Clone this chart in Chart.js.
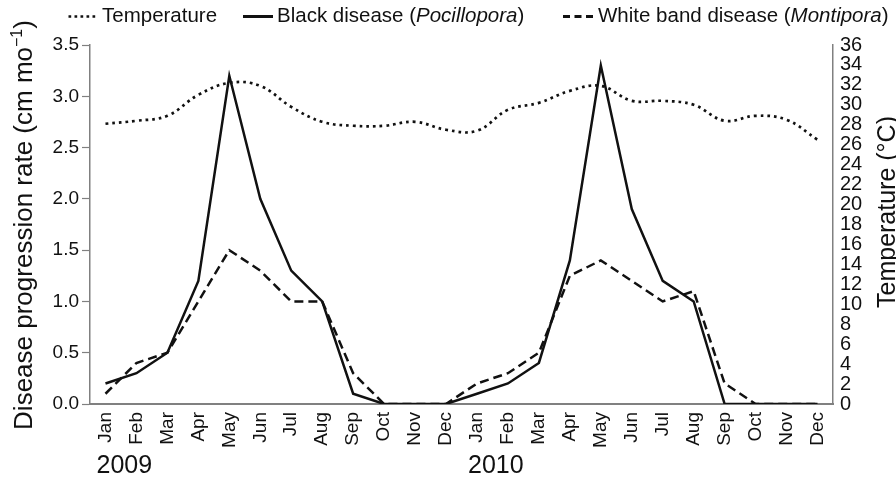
<!DOCTYPE html>
<html>
<head>
<meta charset="utf-8">
<script src="https://cdn.jsdelivr.net/npm/chart.js@4"></script>
<style>
  html, body { margin: 0; padding: 0; background: #fff; }
  .wrap { position: relative; width: 896px; height: 481px; overflow: hidden; font-family: 'Liberation Sans', Arial, sans-serif; }
  .legend div { position: absolute; top: 5px; font-size: 20.5px; line-height: 20.5px; color: #111; white-space: nowrap; }
  .legend svg { position: absolute; top: 10px; }
  canvas { position: absolute; left: 0; top: 0; }
</style>
</head>
<body>
<div class="wrap">
  <canvas id="chart" width="896" height="481"></canvas>
  <div class="legend">
    <svg style="left:67px" width="31" height="12"><line x1="1.5" y1="6.5" x2="30" y2="6.5" stroke="#111" stroke-width="2.7" stroke-dasharray="2.7 3.3"/></svg>
    <div style="left:102px">Temperature</div>
    <svg style="left:243px" width="31" height="12"><line x1="0" y1="6.5" x2="30" y2="6.5" stroke="#111" stroke-width="3"/></svg>
    <div style="left:277px">Black disease (<i>Pocillopora</i>)</div>
    <svg style="left:563px" width="31" height="12"><line x1="0" y1="6.5" x2="30" y2="6.5" stroke="#111" stroke-width="3" stroke-dasharray="7 4.5"/></svg>
    <div style="left:598px">White band disease (<i>Montipora</i>)</div>
  </div>
</div>
<script>
const months = ['Jan', 'Feb', 'Mar', 'Apr', 'May', 'Jun', 'Jul', 'Aug', 'Sep', 'Oct', 'Nov', 'Dec',
  'Jan', 'Feb', 'Mar', 'Apr', 'May', 'Jun', 'Jul', 'Aug', 'Sep', 'Oct', 'Nov', 'Dec'];
const years = ['2009', '2010'];
const yearStart = [0, 12];

const blackDisease = [0.2, 0.3, 0.5, 1.2, 3.2, 2.0, 1.3, 1.0, 0.1, 0, 0, 0,
  0.1, 0.2, 0.4, 1.4, 3.3, 1.9, 1.2, 1.0, 0, 0, 0, 0];
const whiteBand = [0.1, 0.4, 0.5, 1.0, 1.5, 1.3, 1.0, 1.0, 0.3, 0, 0, 0,
  0.2, 0.3, 0.5, 1.25, 1.4, 1.2, 1.0, 1.1, 0.2, 0, 0, 0];
const temperature = [28.1, 28.4, 28.9, 31.0, 32.2, 31.9, 29.8, 28.3, 27.9, 27.9, 28.3, 27.5,
  27.4, 29.5, 30.2, 31.4, 31.9, 30.4, 30.4, 30.0, 28.4, 28.9, 28.5, 26.5];

const leftTicks = [0, 0.5, 1, 1.5, 2, 2.5, 3, 3.5];
const rightTicks = [0, 2, 4, 6, 8, 10, 12, 14, 16, 18, 20, 22, 24, 26, 28, 30, 32, 34, 36];

const font = 'Liberation Sans';
const ink = '#111';
const axisGrey = '#808080';

// axis titles (both read bottom to top) and year labels
const extraText = {
  id: 'extraText',
  afterDraw(chart) {
    const ctx = chart.ctx;
    const x = chart.scales.x;
    ctx.save();
    ctx.fillStyle = ink;

    ctx.font = '25px ' + font;
    ctx.textBaseline = 'middle';
    ctx.textAlign = 'left';
    years.forEach((y, i) => {
      ctx.fillText(y, x.getPixelForValue(yearStart[i]) - 9, 466);
    });

    // left title with superscript
    const main = 'Disease progression rate (cm mo';
    const sup = '\u22121';
    const tail = ')';
    ctx.font = '26px ' + font;
    const wMain = ctx.measureText(main).width;
    const wTail = ctx.measureText(tail).width;
    ctx.font = '16px ' + font;
    const wSup = ctx.measureText(sup).width;
    const total = wMain + wSup + wTail;
    ctx.save();
    ctx.translate(32, 225);
    ctx.rotate(-Math.PI / 2);
    ctx.textBaseline = 'alphabetic';
    ctx.textAlign = 'left';
    let p = -total / 2;
    ctx.font = '26px ' + font;
    ctx.fillText(main, p, 0);
    p += wMain;
    ctx.font = '16px ' + font;
    ctx.fillText(sup, p, -10);
    p += wSup;
    ctx.font = '26px ' + font;
    ctx.fillText(tail, p, 0);
    ctx.restore();

    // right title
    ctx.save();
    ctx.translate(895, 212);
    ctx.rotate(-Math.PI / 2);
    ctx.font = '25px ' + font;
    ctx.textBaseline = 'alphabetic';
    ctx.textAlign = 'center';
    ctx.fillText('Temperature (\u00B0C)', 0, 0);
    ctx.restore();

    ctx.restore();
  }
};

new Chart(document.getElementById('chart'), {
  type: 'line',
  data: {
    labels: months,
    datasets: [
      {
        label: 'Temperature',
        data: temperature,
        yAxisID: 'y2',
        borderColor: ink,
        borderWidth: 2.7,
        borderDash: [2.7, 4],
        tension: 0.4,
        pointRadius: 0,
      },
      {
        label: 'Black disease (Pocillopora)',
        data: blackDisease,
        yAxisID: 'y',
        borderColor: ink,
        borderWidth: 2.5,
        tension: 0,
        pointRadius: 0,
      },
      {
        label: 'White band disease (Montipora)',
        data: whiteBand,
        yAxisID: 'y',
        borderColor: ink,
        borderWidth: 2.5,
        borderDash: [9, 5],
        tension: 0,
        pointRadius: 0,
      },
    ],
  },
  options: {
    responsive: false,
    animation: false,
    layout: { padding: { top: 45, bottom: 0, left: 0, right: 0 } },
    plugins: {
      legend: { display: false },
      tooltip: { enabled: false },
    },
    scales: {
      x: {
        offset: true,
        afterFit: (s) => { s.height = 77; },
        grid: { display: false, drawTicks: false },
        border: { color: axisGrey, width: 2 },
        ticks: { color: ink, font: { family: font, size: 19 }, maxRotation: 90, minRotation: 90, autoSkip: false, padding: 8 },
      },
      y: {
        position: 'left',
        min: 0,
        max: 3.5,
        afterFit: (s) => { s.width = 90; },
        afterBuildTicks: (s) => { s.ticks = leftTicks.map(v => ({ value: v })); },
        grid: { drawOnChartArea: false, tickLength: 8, color: axisGrey, tickWidth: 1.2 },
        border: { color: axisGrey, width: 1.5 },
        ticks: { color: ink, font: { family: font, size: 19 }, padding: 3, callback: v => v.toFixed(1) },
      },
      y2: {
        position: 'right',
        min: 0,
        max: 36,
        afterFit: (s) => { s.width = 63; },
        afterBuildTicks: (s) => { s.ticks = rightTicks.map(v => ({ value: v })); },
        grid: { drawOnChartArea: false, drawTicks: false },
        border: { color: axisGrey, width: 1.5 },
        ticks: { color: ink, font: { family: font, size: 20 }, padding: 7, autoSkip: false },
      },
    },
  },
  plugins: [extraText],
});
</script>
</body>
</html>
